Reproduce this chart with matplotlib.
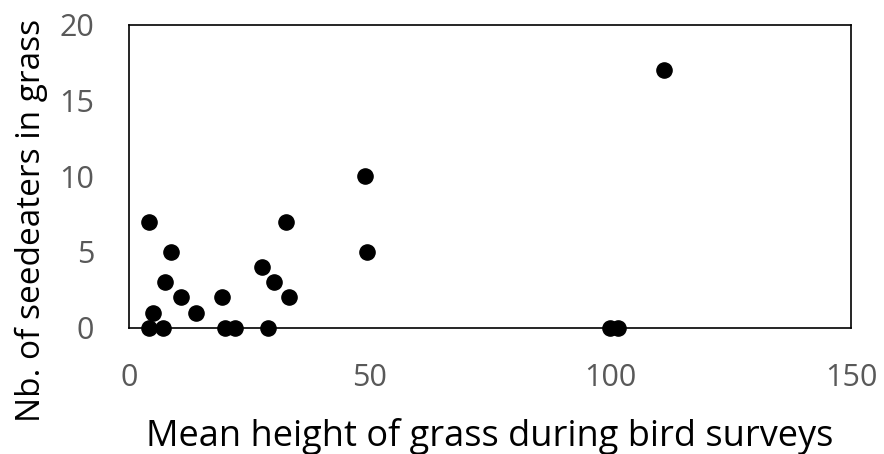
import matplotlib
matplotlib.use("Agg")
import matplotlib.pyplot as plt

# mean grass height vs number of seedeaters
grass_height = [4.2, 4.2, 4.9, 7.1, 7.5, 8.7, 10.8, 13.8, 19.3, 19.9, 21.9,
                27.7, 28.9, 30.0, 32.6, 33.3, 49.0, 49.4, 99.8, 101.6, 111.1]
seedeaters = [7, 0, 1, 0, 3, 5, 2, 1, 2, 0, 0,
              4, 0, 3, 7, 2, 10, 5, 0, 0, 17]
x_ticks = [0, 50, 100, 150]
y_ticks = [0, 5, 10, 15, 20]

plt.rcParams['font.family'] = ['Open Sans', 'DejaVu Sans']

fig = plt.figure(figsize=(8.84, 4.54), dpi=100)
ax = fig.add_axes([0.146, 0.278, 0.817, 0.668])

ax.scatter(grass_height, seedeaters, s=120, c='black', zorder=3, clip_on=False)

ax.set_xlim(0, 150)
ax.set_ylim(0, 20)
ax.set_xticks(x_ticks)
ax.set_yticks(y_ticks)
ax.tick_params(length=0, labelsize=22, labelcolor='#595959', pad=25)

for sp in ax.spines.values():
    sp.set_linewidth(1.2)
    sp.set_color('black')

ax.set_xlabel('Mean height of grass during bird surveys', fontsize=26, labelpad=18)
# y label sits lower than the axes centre in the original
fig.text(31 / 884, 1 - 220 / 454, 'Nb. of seedeaters in grass', fontsize=24,
         rotation=90, ha='center', va='center')

fig.savefig('out.png', dpi=100)
